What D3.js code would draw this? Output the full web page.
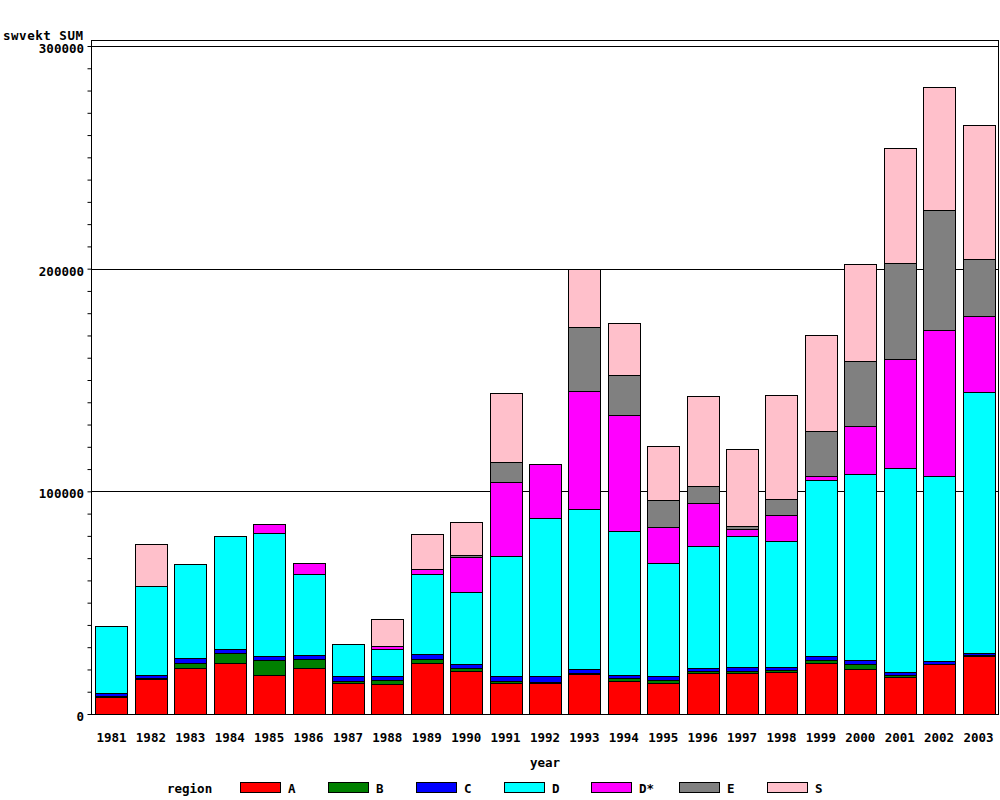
<!DOCTYPE html>
<html>
<head>
<meta charset="utf-8">
<script src="https://cdn.jsdelivr.net/npm/d3@7"></script>
<style>
  html, body { margin: 0; padding: 0; background: #fff; }
  svg text { font-family: "DejaVu Sans Mono", monospace; font-weight: bold; fill: #000; }
</style>
</head>
<body>
<svg id="chart" width="1000" height="800"></svg>
<script>
const years = ["1981","1982","1983","1984","1985","1986","1987","1988","1989","1990","1991","1992","1993","1994","1995","1996","1997","1998","1999","2000","2001","2002","2003"];
const regions = ["A","B","C","D","D*","E","S"];
const regionColors = ["#ff0000","#008000","#0000ff","#00ffff","#ff00ff","#808080","#ffc0cb"];
const A  = [7500,15600,20800,23000,17400,20800,13800,13350,23050,19450,14050,13800,17800,14950,14050,18250,18250,18750,22750,20100,16500,22300,26050];
const B  = [700,400,2200,4250,7000,4050,1150,2050,1800,1200,900,700,500,1350,1200,1200,1200,1150,1500,2200,1150,300,300];
const C  = [1300,1500,2000,1950,1800,1650,2100,1800,1950,1650,2100,2550,1800,1200,1800,1200,1500,1200,1800,1950,1100,1100,900];
const D  = [29900,39850,42200,50600,54950,36250,14250,11850,35950,32600,53750,70850,71850,64550,50900,54650,58850,56450,78900,83400,91600,83300,117200];
const DStar = [0,0,0,0,4050,4950,0,1500,2500,15450,33250,24250,53000,52100,16150,19300,3150,11700,1800,21550,48950,65300,34450];
const E  = [0,0,0,0,0,0,0,0,0,1200,9000,0,28700,17950,11850,7650,1500,7300,20200,29200,43100,53900,25600];
const S  = [0,18850,0,0,0,0,0,12100,15450,14550,30900,0,26350,23350,24250,40550,34450,46700,43100,43850,51650,55250,59900];
const yTicks = [0,100000,200000,300000];
const yLabel = "swvekt SUM";
const xLabel = "year";
const legendTitle = "region";

const series = [A,B,C,D,DStar,E,S];
const rows = years.map((yr,i)=>{
  const r = {year: yr};
  regions.forEach((k,j)=>{ r[k] = series[j][i]; });
  return r;
});

const svg = d3.select("#chart");
const left = 91, right = 999, bottom = 714, topV = 46, frameTop = 40;

const x = d3.scaleBand().domain(years).range([left, right]).paddingInner(0.188).paddingOuter(0.114);
const y = d3.scaleLinear().domain([0,300000]).range([bottom, topV]);
const color = d3.scaleOrdinal().domain(regions).range(regionColors);

// frame
svg.append("rect").attr("x", left+0.5).attr("y", frameTop+0.5)
  .attr("width", right-left-1).attr("height", bottom-frameTop)
  .attr("fill","none").attr("stroke","#000").attr("stroke-width",1);

// gridlines
svg.append("g").selectAll("line").data(yTicks.filter(d=>d>0)).join("line")
  .attr("x1", left).attr("x2", right)
  .attr("y1", d=>Math.round(y(d))+0.5).attr("y2", d=>Math.round(y(d))+0.5)
  .attr("stroke","#000").attr("stroke-width",1);

// stacked bars
const stack = d3.stack().keys(regions);
const stacked = stack(rows);
const g = svg.append("g");
stacked.forEach(layer=>{
  g.append("g").selectAll("rect")
    .data(layer.filter(d=>d[1]-d[0] > 0))
    .join("rect")
    .attr("x", d=>Math.round(x(d.data.year))+0.5)
    .attr("width", Math.round(x.bandwidth()))
    .attr("y", d=>Math.round(y(d[1]))+0.5)
    .attr("height", d=>Math.max(0, Math.round(y(d[0])) - Math.round(y(d[1]))))
    .attr("fill", color(layer.key))
    .attr("stroke","#000").attr("stroke-width",1);
});

// y axis
const yAxis = d3.axisLeft(y).tickValues(d3.range(0,300001,10000)).tickSize(4).tickFormat("");
const ya = svg.append("g").attr("transform",`translate(${left+0.5},0)`).call(yAxis);
ya.select(".domain").remove();
ya.selectAll("line").attr("stroke","#000");
svg.append("line").attr("x1",left+0.5).attr("x2",left+0.5).attr("y1",frameTop).attr("y2",bottom+0.5).attr("stroke","#000");
svg.append("line").attr("x1",left).attr("x2",right).attr("y1",bottom+0.5).attr("y2",bottom+0.5).attr("stroke","#000");

svg.append("g").selectAll("text").data(yTicks).join("text")
  .attr("x", 84).attr("y", d=>y(d)+7)
  .attr("text-anchor","end").attr("font-size",12.5)
  .text(d=>d3.format("d")(d));

svg.append("text").attr("x",3).attr("y",40)
  .attr("font-size",12.5).attr("textLength",80).attr("lengthAdjust","spacing").text(yLabel);

// x labels
svg.append("g").selectAll("text").data(years).join("text")
  .attr("x", d=>x(d)+x.bandwidth()/2).attr("y", 742)
  .attr("text-anchor","middle").attr("font-size",12.5).text(d=>d);

svg.append("text").attr("x",545).attr("y",767).attr("text-anchor","middle")
  .attr("font-size",12.5).text(xLabel);

// legend
svg.append("text").attr("x",167).attr("y",793).attr("font-size",12.5).text(legendTitle);
const lx = d3.scalePoint().domain(regions).range([240, 767]);
const lg = svg.append("g").selectAll("g").data(regions).join("g")
  .attr("transform", d=>`translate(${Math.round(lx(d))},0)`);
lg.append("rect").attr("x",0.5).attr("y",782.5).attr("width",40).attr("height",10)
  .attr("fill", d=>color(d)).attr("stroke","#000");
lg.append("text").attr("x",48).attr("y",793).attr("font-size",12.5).text(d=>d);
</script>
</body>
</html>
